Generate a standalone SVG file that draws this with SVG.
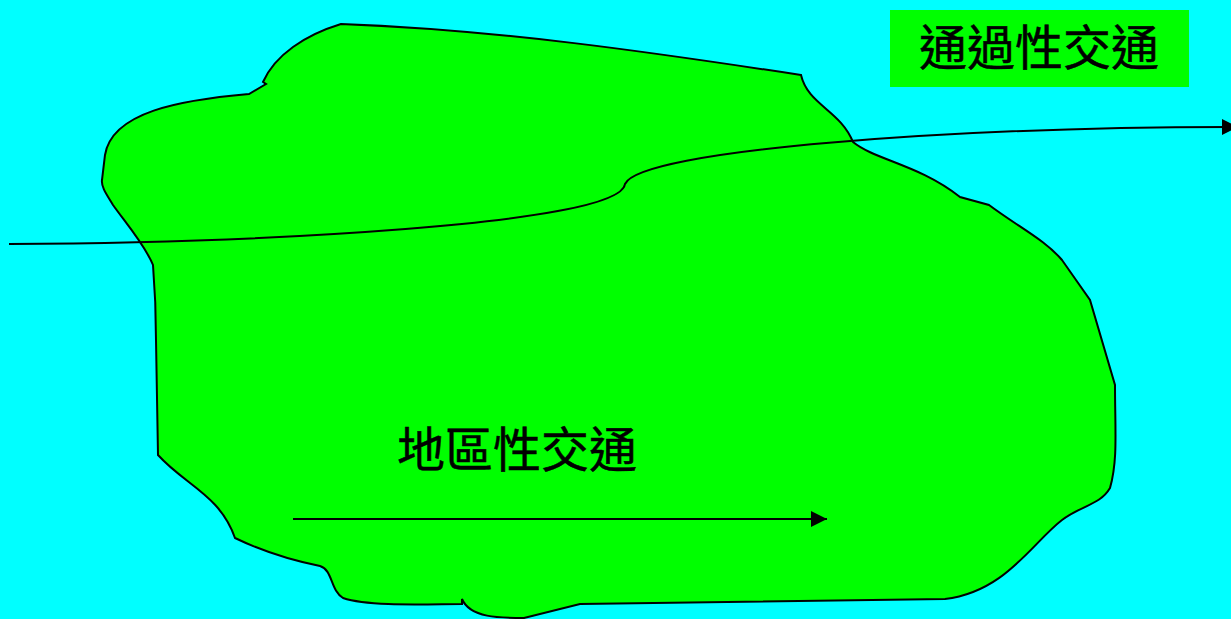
<svg xmlns="http://www.w3.org/2000/svg" width="1231" height="619" viewBox="0 0 1231 619">
<style>
.t{font-family:"Noto Sans CJK TC","Noto Sans CJK JP",sans-serif;font-size:48px;fill:#000;stroke:#000;stroke-width:.5}
.c{fill:none;stroke:#000;stroke-width:2}
</style>
<defs><marker id="a" markerUnits="userSpaceOnUse" markerWidth="16" markerHeight="16" refX="16" refY="8" orient="auto"><path d="M0 0L16 8L0 16Z" fill="#000"/></marker></defs>
<rect width="1231" height="619" fill="#0ff"/>
<g id="region"><path d="M341 24C500 30 650 52 801 75C808 105 840 110 853 142C875 160 920 165 960 197L989 205C1020 228 1045 240 1062 260L1090 300L1115 385C1115 430 1118 460 1110 488C1100 505 1082 505 1062 520C1032 543 1005 592 945 599L580 604L524 618C500 618 470 618 462 599L462 604C430 604 370 607 343 598C330 590 333 570 320 566C290 560 260 550 235 538C220 495 185 485 158 455L156 340C156 310 155 290 153 265C145 245 125 222 113 205C107 195 101 187 102 180L105 155C112 112 180 100 249 94L266 84L263 82C275 55 305 35 341 24Z" fill="#0f0" stroke="#000" stroke-width="2"/></g>
<g id="label-through"><rect x="890" y="10" width="299" height="77" fill="#0f0"/><text class="t" x="1039" y="65" text-anchor="middle">通過性交通</text></g>
<g id="label-local"><text class="t" x="517" y="467" text-anchor="middle">地區性交通</text></g>
<g id="connectors">
<path class="c" marker-end="url(#a)" d="M9 244C250 243 620 225 625 184C640 150 950 127 1238 127"/>
<line class="c" x1="293" y1="519" x2="827" y2="519" marker-end="url(#a)"/>
</g>
</svg>
